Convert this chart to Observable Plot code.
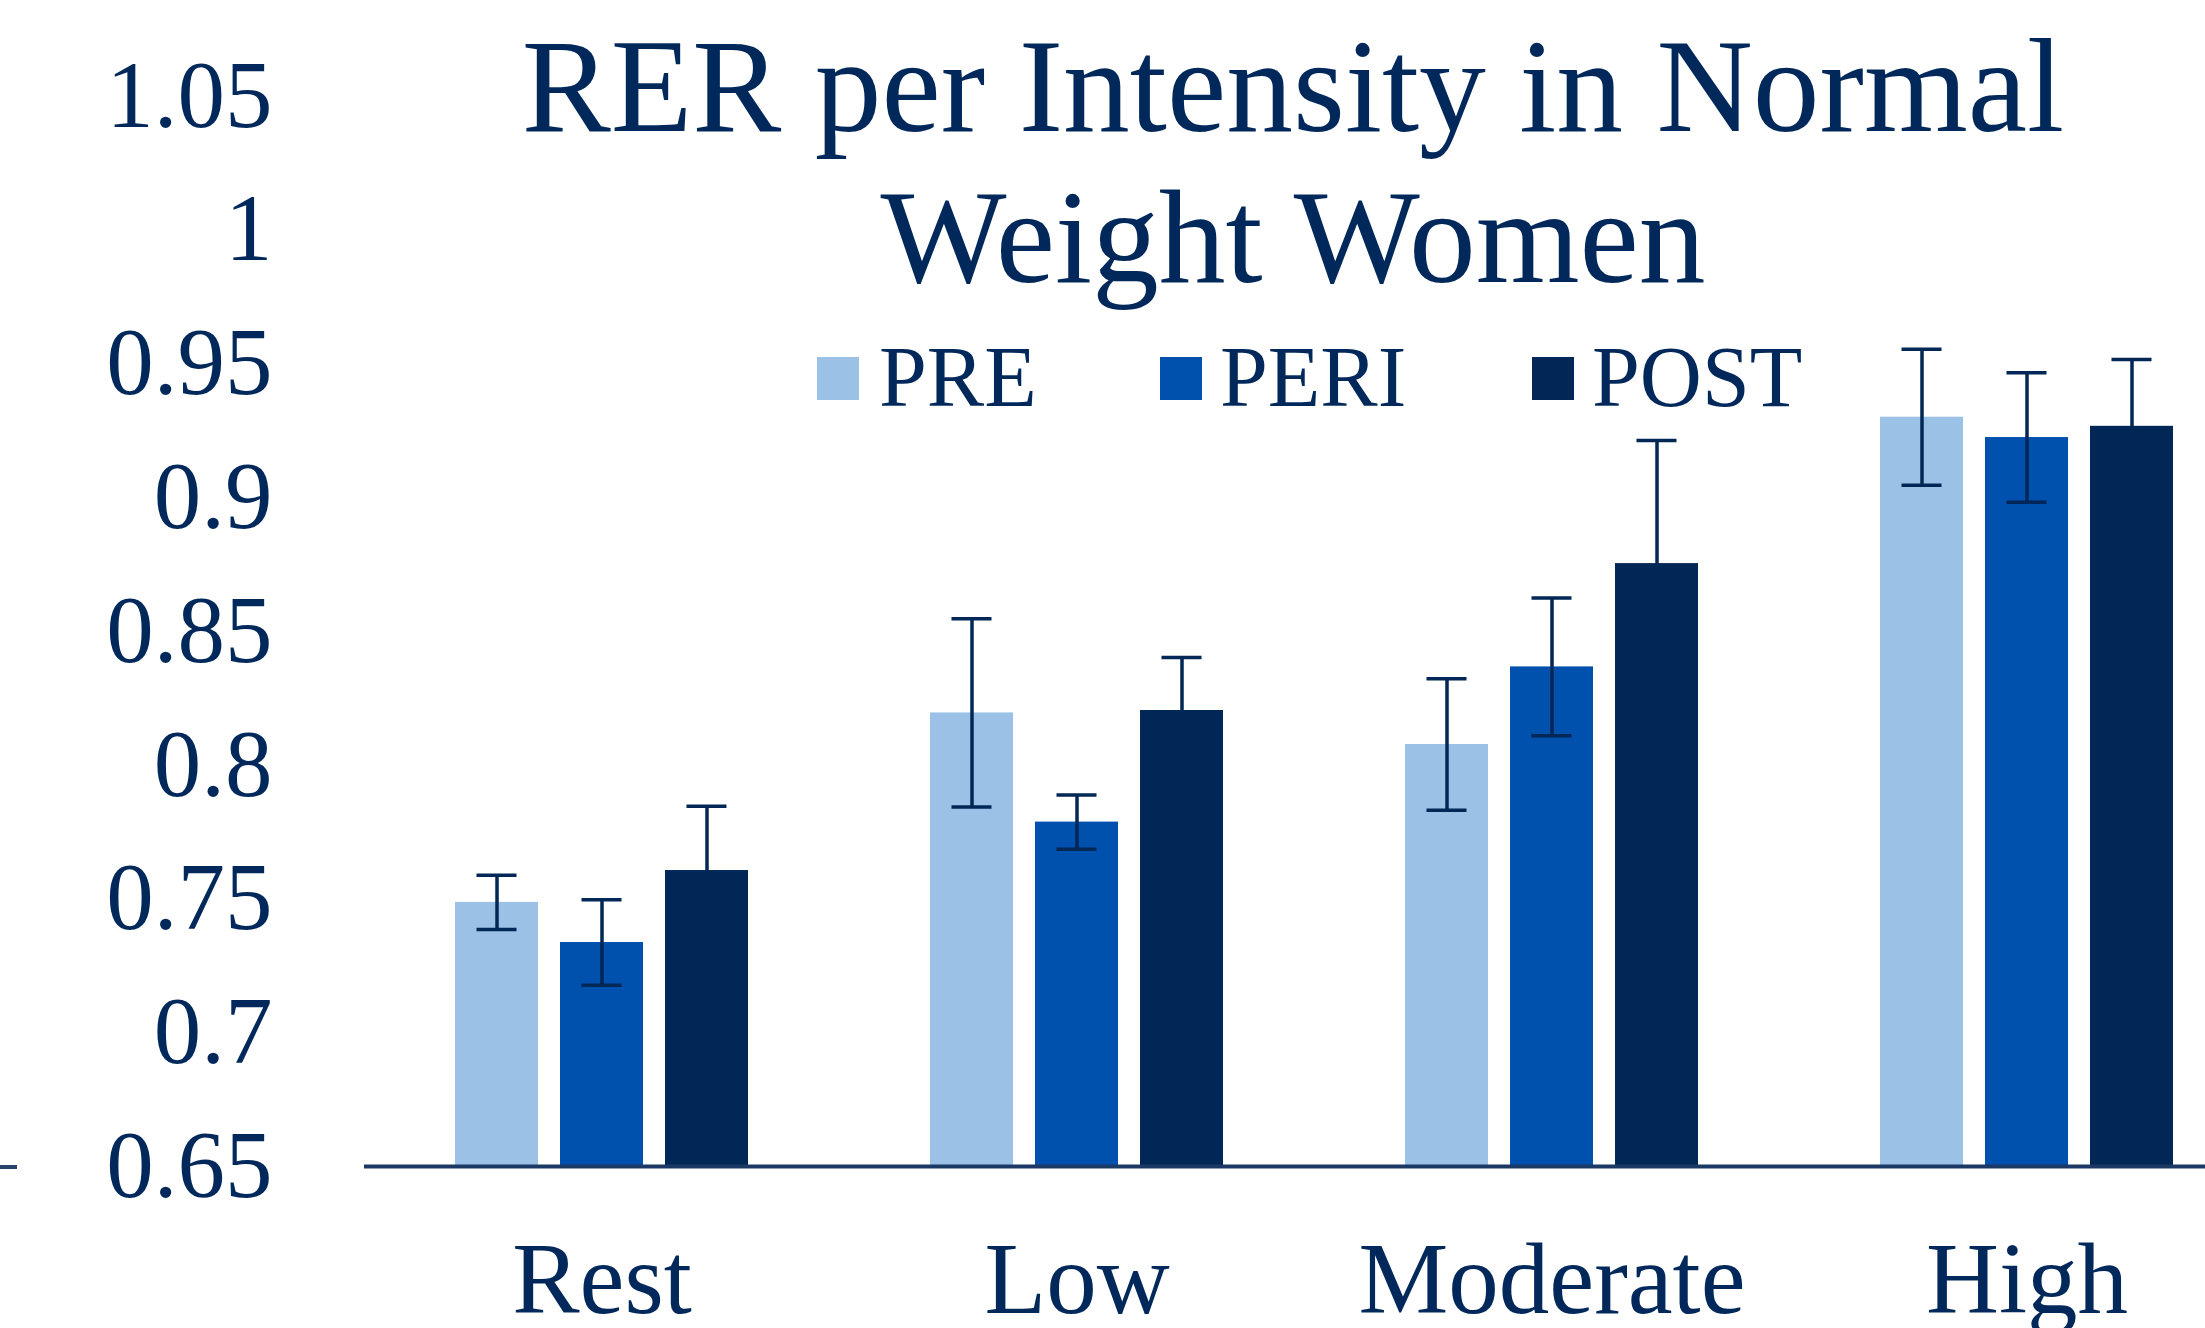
<!DOCTYPE html>
<html>
<head>
<meta charset="utf-8">
<script src="https://cdn.jsdelivr.net/npm/d3@7"></script>
<script src="https://cdn.jsdelivr.net/npm/@observablehq/plot@0.6"></script>
<style>
  html, body { margin: 0; padding: 0; background: #ffffff; }
  #wrap { position: relative; width: 2205px; height: 1328px; overflow: hidden; background: #ffffff;
          font-family: "Liberation Serif", "Times New Roman", serif; color: #00285a; }
  #chart { position: absolute; left: 0; top: 0; }
  #title { position: absolute; left: 293px; width: 2000px; top: 10.5px; text-align: center;
           font-size: 133.5px; line-height: 151px; white-space: nowrap; }
  .leg-sw { position: absolute; width: 42px; height: 43px; top: 357px; }
  .leg-tx { position: absolute; top: 334px; font-size: 86px; line-height: 86px; white-space: nowrap; }
  #edge { position: absolute; left: 0; top: 1165px; width: 17px; height: 4px; background: #27426b; }
</style>
</head>
<body>
<div id="wrap">
  <div id="chart"></div>
  <div id="title"></div>
  <div id="edge"></div>
</div>
<script>
// ---- data ----
const categories = ["Rest", "Low", "Moderate", "High"];
const series = ["PRE", "PERI", "POST"];
const preValues  = [0.7487, 0.8195, 0.8077, 0.9300];
const periValues = [0.7337, 0.7787, 0.8367, 0.9224];
const postValues = [0.7606, 0.8204, 0.8753, 0.9266];
const preErrors  = [0.0101, 0.0352, 0.0246, 0.0254];
const periErrors = [0.0160, 0.0101, 0.0257, 0.0242];
const postErrors = [0.0240, 0.0198, 0.0460, 0.0250];
const yTicks = [0.65, 0.7, 0.75, 0.8, 0.85, 0.9, 0.95, 1, 1.05];
const yDomain = [0.65, 1.05];
const seriesColors = ["#9bc2e6", "#0050ae", "#002755"];
const titleLines = ["RER per Intensity in Normal", "Weight Women"];

// ---- build table ----
const valuesBySeries = [preValues, periValues, postValues];
const errorsBySeries = [preErrors, periErrors, postErrors];
const data = [];
categories.forEach((c, i) => {
  series.forEach((s, j) => {
    data.push({category: c, series: s, value: valuesBySeries[j][i], err: errorsBySeries[j][i]});
  });
});

const ink = "#00285a";
const errInk = "#002755";

const plot = Plot.plot({
  width: 2205,
  height: 1328,
  marginLeft: 364,
  marginRight: -59,
  marginTop: 95.6,
  marginBottom: 162,
  style: {
    fontFamily: "'Liberation Serif', 'Times New Roman', serif",
    fontSize: "95px",
    color: ink,
    background: "transparent"
  },
  fx: {domain: categories, padding: 0, round: false},
  x: {domain: series, paddingInner: 0.2095, paddingOuter: 0.8667, axis: null, round: false},
  y: {domain: yDomain},
  color: {domain: series, range: seriesColors},
  marks: [
    Plot.barY(data, {fx: "category", x: "series", y1: yDomain[0], y2: "value", fill: "series"}),
    Plot.ruleX(data, {fx: "category", x: "series", y1: d => d.value - d.err, y2: d => d.value + d.err,
                      stroke: errInk, strokeWidth: 3.5}),
    Plot.tickY(data, {fx: "category", x: "series", y: d => d.value + d.err, stroke: errInk,
                      strokeWidth: 3.5, insetLeft: 21.5, insetRight: 21.5}),
    Plot.tickY(data, {fx: "category", x: "series", y: d => d.value - d.err, stroke: errInk,
                      strokeWidth: 3.5, insetLeft: 21.5, insetRight: 21.5}),
    Plot.ruleY([yDomain[0]], {stroke: "#1c3965", strokeWidth: 4}),
    Plot.axisY({ticks: yTicks, tickSize: 0, tickPadding: 92, tickFormat: d => String(d),
                fontSize: 95, label: null}),
    Plot.axisFx({anchor: "bottom", tickSize: 0, tickPadding: 75, fontSize: 101, label: null})
  ]
});
document.getElementById("chart").appendChild(plot);

// ---- title ----
document.getElementById("title").innerHTML = titleLines.join("<br>");

// ---- legend ----
const legendSwatchX = [817, 1160, 1532];
const legendTextX = [879, 1220, 1592];
const wrap = document.getElementById("wrap");
series.forEach((s, j) => {
  const sw = document.createElement("div");
  sw.className = "leg-sw";
  sw.style.left = legendSwatchX[j] + "px";
  sw.style.background = seriesColors[j];
  wrap.appendChild(sw);
  const tx = document.createElement("div");
  tx.className = "leg-tx";
  tx.style.left = legendTextX[j] + "px";
  tx.textContent = s;
  wrap.appendChild(tx);
});
</script>
</body>
</html>
